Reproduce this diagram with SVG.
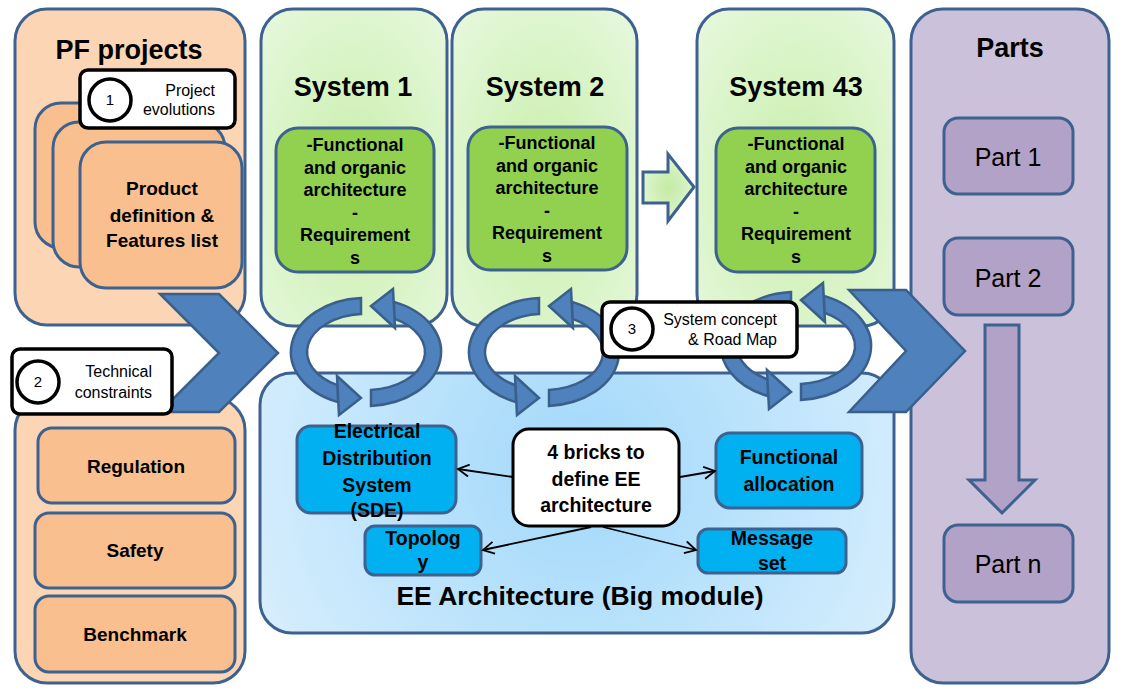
<svg xmlns="http://www.w3.org/2000/svg" xmlns:xlink="http://www.w3.org/1999/xlink" width="1123" height="700" viewBox="0 0 1123 700">
<style>
.ol{stroke:#3e6290;stroke-width:3}
.peach{fill:#fcd5b4}
.peach2{fill:#f9bf8f}
.green{fill:url(#gGreen)}
.ginner{fill:#92d050}
.purple{fill:#ccc1da}
.pinner{fill:#b3a2c7}
.brick{fill:#00b0f0}
.lbl{fill:#fff;stroke:#000;stroke-width:3.5}
.arr{fill:#4f81bd;stroke:#3a5f8b;stroke-width:2.5}
text{font-family:"Liberation Sans",Arial,sans-serif;fill:#000}
.t27{font-size:27px;font-weight:bold;text-anchor:middle}
.t18{font-size:18px;font-weight:bold;text-anchor:middle}
.t19{font-size:19px;font-weight:bold;text-anchor:middle}
.tb{font-size:19.5px;font-weight:bold;text-anchor:middle}
.tp{font-size:25px;text-anchor:middle}
.tl{font-size:16px;text-anchor:end}
.tn{font-size:15px;text-anchor:middle}
.conn{stroke:#000;stroke-width:1.8;fill:none;marker-end:url(#open)}
</style>
<defs>
<radialGradient id="gGreen" cx="0.5" cy="0.55" r="0.7">
<stop offset="0" stop-color="#c8eeaa"/>
<stop offset="1" stop-color="#e6f8dc"/>
</radialGradient>
<radialGradient id="gBlue" gradientUnits="userSpaceOnUse" cx="580" cy="470" r="360">
<stop offset="0" stop-color="#a0d8fa"/>
<stop offset="1" stop-color="#d8eefd"/>
</radialGradient>
<radialGradient id="gArrow" cx="0.5" cy="0.5" r="0.6">
<stop offset="0" stop-color="#c3eba2"/>
<stop offset="1" stop-color="#e4f7d8"/>
</radialGradient>
<marker id="open" markerWidth="14" markerHeight="14" refX="12" refY="7" orient="auto" markerUnits="userSpaceOnUse">
<path d="M1,1 L12,7 L1,13" fill="none" stroke="#000" stroke-width="1.8"/>
</marker>
<g id="half">
<path class="arr" d="M -5 -53.9 A 75 54 0 0 0 -28 50.1 L -28 33.4 A 59 38 0 0 1 -5 -37.9 Z"/>
<polygon class="arr" points="-29,24 -5,46 -27,63"/>
</g>
<g id="ring">
<use xlink:href="#half"/>
<use xlink:href="#half" transform="rotate(180)"/>
</g>
</defs>

<rect width="1123" height="700" fill="#fff"/>

<g id="pf-projects">
<rect class="peach ol" x="15" y="9" width="230" height="316" rx="32"/>
<text class="t27" x="129" y="59">PF projects</text>
<rect class="peach2 ol" x="35" y="103" width="180" height="145" rx="26"/>
<rect class="peach2 ol" x="53" y="122" width="172" height="145" rx="26"/>
</g>
<g id="product-definition">
<rect class="peach2 ol" x="80" y="142" width="162" height="146" rx="26"/>
<text class="t19" x="162" y="195">Product</text>
<text class="t19" x="162" y="222">definition &amp;</text>
<text class="t19" x="162" y="247">Features list</text>
</g>

<g id="constraints">
<rect class="peach ol" x="15" y="398" width="230" height="285" rx="32"/>
</g>
<g id="regulation">
<rect class="peach2 ol" x="38" y="428" width="197" height="75" rx="14"/>
<text class="t19" x="136" y="473">Regulation</text>
</g>
<g id="safety">
<rect class="peach2 ol" x="35" y="513" width="200" height="75" rx="14"/>
<text class="t19" x="135" y="557">Safety</text>
</g>
<g id="benchmark">
<rect class="peach2 ol" x="35" y="596" width="200" height="76" rx="14"/>
<text class="t19" x="135" y="641">Benchmark</text>
</g>

<g id="system1">
<rect class="green ol" x="261" y="9" width="186" height="317" rx="32"/>
<text class="t27" x="353" y="96">System 1</text>
<rect class="ginner ol" x="276" y="128" width="158" height="144" rx="22"/>
<text class="t18" x="355" y="151">-Functional</text>
<text class="t18" x="355" y="173.5">and organic</text>
<text class="t18" x="355" y="196">architecture</text>
<text class="t18" x="355" y="218.5">-</text>
<text class="t18" x="355" y="241">Requirement</text>
<text class="t18" x="355" y="263.5">s</text>
</g>

<g id="system2">
<rect class="green ol" x="452" y="9" width="185" height="317" rx="32"/>
<text class="t27" x="545" y="96">System 2</text>
<rect class="ginner ol" x="468" y="127" width="159" height="143" rx="22"/>
<text class="t18" x="547" y="149">-Functional</text>
<text class="t18" x="547" y="171.5">and organic</text>
<text class="t18" x="547" y="194">architecture</text>
<text class="t18" x="547" y="216.5">-</text>
<text class="t18" x="547" y="239">Requirement</text>
<text class="t18" x="547" y="261.5">s</text>
</g>

<g id="system43">
<rect class="green ol" x="697" y="9" width="197" height="317" rx="32"/>
<text class="t27" x="796" y="96">System 43</text>
<rect class="ginner ol" x="716" y="128" width="159" height="144" rx="22"/>
<text class="t18" x="796" y="150">-Functional</text>
<text class="t18" x="796" y="172.5">and organic</text>
<text class="t18" x="796" y="195">architecture</text>
<text class="t18" x="796" y="217.5">-</text>
<text class="t18" x="796" y="240">Requirement</text>
<text class="t18" x="796" y="262.5">s</text>
</g>

<g id="parts">
<rect class="purple ol" x="911" y="9" width="198" height="674" rx="32"/>
<text class="t27" x="1010" y="57">Parts</text>
</g>
<g id="part1">
<rect class="pinner ol" x="944" y="118" width="129" height="76" rx="14"/>
<text class="tp" x="1008" y="166">Part 1</text>
</g>
<g id="part2">
<rect class="pinner ol" x="944" y="238" width="129" height="77" rx="14"/>
<text class="tp" x="1008" y="287">Part 2</text>
</g>
<g id="partn">
<rect class="pinner ol" x="944" y="525" width="129" height="77" rx="14"/>
<text class="tp" x="1008" y="573">Part n</text>
</g>

<g id="ee-architecture">
<rect class="ol" fill="url(#gBlue)" x="260" y="373" width="634" height="260" rx="32"/>
<text class="t27" x="580" y="605" style="font-size:26.5px">EE Architecture (Big module)</text>
</g>
<g id="eds">
<rect class="brick ol" x="297" y="426" width="159" height="87" rx="14"/>
<text class="tb" x="377" y="438">Electrical</text>
<text class="tb" x="377" y="465">Distribution</text>
<text class="tb" x="377" y="492">System</text>
<text class="tb" x="377" y="517">(SDE)</text>
</g>
<g id="functional-allocation">
<rect class="brick ol" x="716" y="433" width="146" height="75" rx="14"/>
<text class="tb" x="789" y="464">Functional</text>
<text class="tb" x="789" y="491">allocation</text>
</g>
<g id="topology">
<rect class="brick ol" x="365" y="526" width="116" height="49" rx="10"/>
<text class="tb" x="423" y="545">Topolog</text>
<text class="tb" x="423" y="569">y</text>
</g>
<g id="message-set">
<rect class="brick ol" x="698" y="529" width="148" height="44" rx="10"/>
<text class="tb" x="772" y="545">Message</text>
<text class="tb" x="772" y="570">set</text>
</g>
<g id="four-bricks">
<rect fill="#fff" stroke="#000" stroke-width="3" x="513" y="429" width="166" height="97" rx="16"/>
<text class="tb" x="596" y="459">4 bricks to</text>
<text class="tb" x="596" y="486">define EE</text>
<text class="tb" x="596" y="512">architecture</text>
</g>

<g id="connectors">
<line class="conn" x1="513" y1="477" x2="458" y2="469"/>
<line class="conn" x1="680" y1="477" x2="715" y2="471"/>
<line class="conn" x1="591" y1="527" x2="483" y2="550"/>
<line class="conn" x1="603" y1="527" x2="696" y2="550"/>
<polygon class="arr" points="160,294 219,294 278,353 219,412 160,412 219,353"/>
<polygon class="arr" points="849,290 906,290 965,351 906,412 849,412 906,351"/>
<polygon fill="url(#gArrow)" class="ol" points="643,172 668,172 668,154 694,187 668,221 668,203 643,203"/>
<polygon class="pinner ol" points="985,325 1019,325 1019,480 1035,480 1002,513 969,480 985,480"/>
<use xlink:href="#ring" transform="translate(366,352)"/>
<use xlink:href="#ring" transform="translate(544,352)"/>
<use xlink:href="#ring" transform="translate(796,346)"/>
</g>

<g id="label1">
<rect class="lbl" x="80" y="70" width="155" height="58" rx="8"/>
<circle cx="110" cy="100" r="21" fill="#fff" stroke="#000" stroke-width="3.5"/>
<text class="tn" x="110" y="105">1</text>
<text class="tl" x="215" y="96">Project</text>
<text class="tl" x="215" y="115">evolutions</text>
</g>
<g id="label2">
<rect class="lbl" x="12" y="349" width="160" height="65" rx="8"/>
<circle cx="38" cy="382" r="21" fill="#fff" stroke="#000" stroke-width="3.5"/>
<text class="tn" x="38" y="387">2</text>
<text class="tl" x="152" y="377">Technical</text>
<text class="tl" x="152" y="398">constraints</text>
</g>
<g id="label3">
<rect class="lbl" x="602" y="302" width="195" height="55" rx="8"/>
<circle cx="632" cy="329" r="21" fill="#fff" stroke="#000" stroke-width="3.5"/>
<text class="tn" x="632" y="334">3</text>
<text class="tl" x="777" y="325">System concept</text>
<text class="tl" x="777" y="345">&amp; Road Map</text>
</g>
</svg>
